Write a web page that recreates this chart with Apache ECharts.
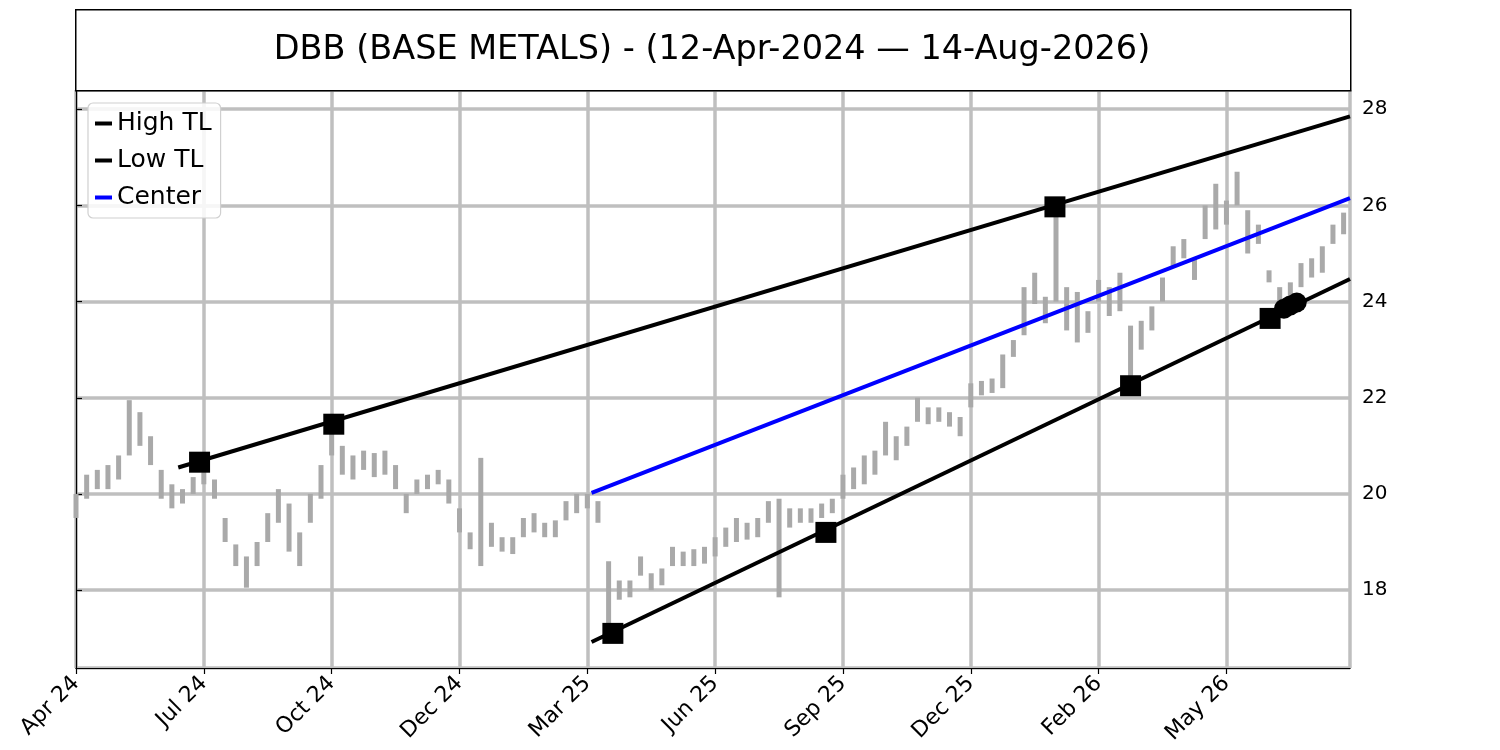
<!DOCTYPE html>
<html>
<head>
<meta charset="utf-8">
<title>DBB (BASE METALS)</title>
<script src="https://cdn.jsdelivr.net/npm/echarts@6/dist/echarts.min.js"></script>
<style>
  html, body { margin: 0; padding: 0; background: #fff; }
  #main { width: 1500px; height: 750px; }
</style>
</head>
<body>
<div id="main"></div>
<script>
// price bars, one entry every 5 trading days (x = i * 5)
var barStep = 5;
var lows = [
  19.5, 19.9, 20.1, 20.1, 20.3, 20.8, 21.0, 20.6, 19.9, 19.7,
  19.8, 20.0, 20.2, 19.9, 19.0, 18.5, 18.05, 18.5, 19.0, 19.4,
  18.8, 18.5, 19.4, 19.9, 20.8, 20.4, 20.3, 20.5, 20.35, 20.4,
  20.1, 19.6, 20.0, 20.1, 20.2, 19.8, 19.2, 18.85, 18.5, 18.9,
  18.8, 18.75, 19.1, 19.2, 19.1, 19.1, 19.45, 19.6, 19.7, 19.4,
  17.2, 17.8, 17.85, 18.3, 18.0, 18.1, 18.5, 18.5, 18.5, 18.55,
  18.7, 18.9, 19.0, 19.05, 19.1, 19.4, 17.85, 19.3, 19.4, 19.4,
  19.5, 19.6, 19.9, 20.1, 20.2, 20.4, 20.8, 20.7, 21.0, 21.5,
  21.45, 21.5, 21.4, 21.2, 21.8, 22.05, 22.1, 22.2, 22.85, 23.3,
  23.95, 23.55, 24.0, 23.4, 23.15, 23.35, 24.0, 23.7, 23.8, 22.3,
  23.0, 23.4, 24.0, 24.7, 24.9, 24.45, 25.3, 25.5, 25.6, 26.0,
  25.0, 25.2, 24.4, 23.9, 24.0, 24.3, 24.5, 24.6, 25.2, 25.4
];
var highs = [
  20.0, 20.4, 20.5, 20.6, 20.8, 21.95, 21.7, 21.2, 20.5, 20.2,
  20.1, 20.35, 20.45, 20.3, 19.5, 18.95, 18.7, 19.0, 19.6, 20.1,
  19.8, 19.2, 20.0, 20.6, 21.4, 21.0, 20.8, 20.9, 20.85, 20.9,
  20.6, 20.0, 20.3, 20.4, 20.5, 20.3, 19.7, 19.2, 20.75, 19.4,
  19.1, 19.1, 19.5, 19.6, 19.4, 19.45, 19.85, 20.0, 20.0, 19.85,
  18.6, 18.2, 18.2, 18.7, 18.35, 18.45, 18.9, 18.8, 18.85, 18.9,
  19.1, 19.3, 19.5, 19.4, 19.5, 19.85, 19.9, 19.7, 19.7, 19.7,
  19.8, 19.9, 20.4, 20.55, 20.8, 20.9, 21.5, 21.2, 21.4, 22.0,
  21.8, 21.8, 21.7, 21.6, 22.3, 22.35, 22.4, 22.9, 23.2, 24.3,
  24.6, 24.1, 25.95, 24.3, 24.2, 23.8, 24.45, 24.3, 24.6, 23.5,
  23.6, 23.9, 24.5, 25.15, 25.3, 24.9, 26.0, 26.45, 26.1, 26.7,
  25.9, 25.6, 24.65, 24.3, 24.4, 24.8, 24.9, 25.15, 25.6, 25.85
];

// trend lines: [bar index, price]
var highTL = [[48, 20.55], [598, 27.85]];
var lowTL = [[242, 16.92], [598, 24.47]];
var centerTL = [[242, 20.02], [598, 26.15]];
var pivotSquares = [
  [58, 20.66], [121, 21.45], [459.5, 25.97],
  [252, 17.1], [352, 19.2], [495, 22.25], [560.5, 23.65]
];
var lastPoints = [[567, 23.85], [570, 23.92], [573, 23.98]];

// x tick labels every 60 bars
var tickStep = 60;
var tickLabels = ['Apr 24', 'Jul 24', 'Oct 24', 'Dec 24', 'Mar 25', 'Jun 25',
                  'Sep 25', 'Dec 25', 'Feb 26', 'May 26'];

var priceData = lows.map(function (lo, i) { return [i * barStep, lo, highs[i]]; });

var FONT = 'DejaVu Sans';
var chart = echarts.init(document.getElementById('main'));

var option = {
  animation: false,
  textStyle: { fontFamily: FONT },
  grid: {
    left: 76, right: 150, top: 90, bottom: 82,
    show: true, borderColor: '#000', borderWidth: 1.2, backgroundColor: 'transparent'
  },
  graphic: [
    {
      type: 'rect', left: 75, top: 9,
      shape: { width: 1275, height: 81 },
      style: { fill: '#fff', stroke: '#000', lineWidth: 1.5 }, z: 100
    },
    {
      type: 'text', x: 712, y: 50,
      style: {
        text: 'DBB (BASE METALS) - (12-Apr-2024 \u2014 14-Aug-2026)',
        fontFamily: FONT, fontSize: 33.5, fill: '#000',
        align: 'center', verticalAlign: 'middle'
      }, z: 101
    }
  ],
  legend: {
    data: ['High TL', 'Low TL', 'Center'],
    orient: 'vertical', left: 88, top: 103,
    icon: 'rect', itemWidth: 17, itemHeight: 4, itemGap: 12, itemTextGap: 0,
    padding: [8, 9, 8, 7],
    backgroundColor: 'rgba(255,255,255,0.85)',
    borderColor: '#d0d0d0', borderWidth: 1.2, borderRadius: 5,
    textStyle: { fontFamily: FONT, fontSize: 25, color: '#000' }
  },
  xAxis: {
    type: 'value', min: 0, max: 598, interval: tickStep,
    axisLine: { show: true, onZero: false, lineStyle: { color: '#000', width: 1.2 } },
    axisTick: { show: true, length: 6, lineStyle: { color: '#000', width: 1.2 } },
    axisLabel: {
      rotate: 45, fontFamily: FONT, fontSize: 22, color: '#000', margin: 12,
      showMaxLabel: false,
      formatter: function (v) {
        var k = Math.round(v / tickStep);
        return (Math.abs(v - k * tickStep) < 1e-6 && tickLabels[k]) ? tickLabels[k] : '';
      }
    },
    splitLine: { show: true, lineStyle: { color: '#bfbfbf', width: 3.5 } }
  },
  yAxis: {
    type: 'value', position: 'right', min: 16.38, max: 28.4, splitNumber: 5,
    axisLine: { show: true, lineStyle: { color: '#000', width: 1.2 } },
    axisTick: { show: true, length: 6, lineStyle: { color: '#000', width: 1.2 } },
    axisLabel: {
      fontFamily: FONT, fontSize: 20, color: '#000', margin: 12,
      showMinLabel: false, showMaxLabel: false,
      formatter: function (v) { return (Math.abs(v - Math.round(v)) < 1e-6) ? String(v) : ''; }
    },
    splitLine: { show: true, lineStyle: { color: '#bfbfbf', width: 3.5 } }
  },
  series: [
    {
      name: 'Price', type: 'custom', z: 2,
      data: priceData,
      renderItem: function (params, api) {
        var top = api.coord([api.value(0), api.value(2)]);
        var bot = api.coord([api.value(0), api.value(1)]);
        return {
          type: 'rect',
          shape: { x: top[0] - 2.5, y: top[1], width: 5, height: Math.max(bot[1] - top[1], 3) },
          style: { fill: '#a9a9a9' }
        };
      }
    },
    {
      name: 'High TL', type: 'line', data: highTL, symbol: 'none', z: 3,
      itemStyle: { color: '#000' }, lineStyle: { color: '#000', width: 4 }
    },
    {
      name: 'Low TL', type: 'line', data: lowTL, symbol: 'none', z: 3,
      itemStyle: { color: '#000' }, lineStyle: { color: '#000', width: 4 }
    },
    {
      name: 'Center', type: 'line', data: centerTL, symbol: 'none', z: 3,
      itemStyle: { color: '#0000ff' }, lineStyle: { color: '#0000ff', width: 4 }
    },
    {
      name: 'Pivots', type: 'scatter', data: pivotSquares, z: 4,
      symbol: 'rect', symbolSize: 21, itemStyle: { color: '#000', opacity: 1 }
    },
    {
      name: 'Last', type: 'scatter', data: lastPoints, z: 4,
      symbol: 'circle', symbolSize: 20, itemStyle: { color: '#000', opacity: 1 }
    }
  ]
};

chart.setOption(option);
</script>
</body>
</html>
